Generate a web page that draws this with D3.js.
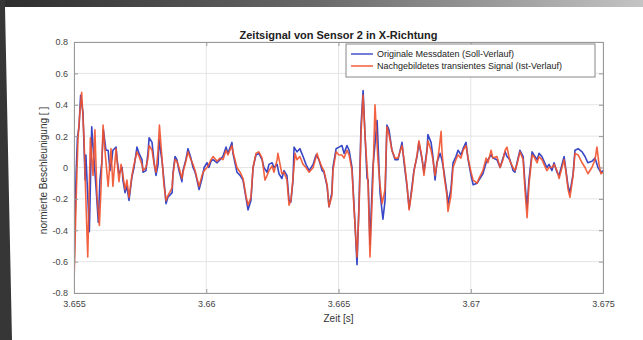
<!DOCTYPE html>
<html><head><meta charset="utf-8">
<script src="https://cdn.jsdelivr.net/npm/d3@7"></script>
<style>body{margin:0;background:#fff}svg{display:block}</style>
</head><body><svg id="c" width="643" height="340"></svg>
<script>
const chartTitle = "Zeitsignal von Sensor 2 in X-Richtung";
const xLabel = "Zeit [s]";
const yLabel = "normierte Beschleunigung [ ]";
const seriesNames = ["Originale Messdaten (Soll-Verlauf)", "Nachgebildetes transientes Signal (Ist-Verlauf)"];
// time offsets in ms after 3.655 s
const xTickValues = [0, 5, 10, 15, 20];
const xTickLabels = ["3.655", "3.66", "3.665", "3.67", "3.675"];
const yTickValues = [-0.8, -0.6, -0.4, -0.2, 0, 0.2, 0.4, 0.6, 0.8];
const yTickLabels = ["-0.8", "-0.6", "-0.4", "-0.2", "0", "0.2", "0.4", "0.6", "0.8"];

const sollData = [
[0,-0.67],[0.08,-0.04],[0.13,0.19],[0.19,0.26],[0.25,0.46],[0.34,0.35],[0.42,-0.08],[0.45,0.08],[0.58,-0.41],[0.67,0.26],
[0.73,0.11],[0.83,-0.12],[0.92,-0.35],[0.98,-0.08],[1.05,0.03],[1.11,0.24],[1.21,0.11],[1.29,0.11],[1.36,-0.02],[1.43,0.05],
[1.47,0.11],[1.59,0.13],[1.63,0.05],[1.70,-0.04],[1.82,0.00],[1.85,-0.08],[1.93,-0.16],[2.00,-0.12],[2.08,-0.21],[2.19,-0.06],
[2.27,0.00],[2.38,0.13],[2.46,0.09],[2.57,0.05],[2.61,-0.03],[2.72,-0.02],[2.80,0.10],[2.84,0.19],[2.95,0.16],[3.03,0.03],
[3.10,-0.05],[3.18,0.02],[3.21,0.18],[3.33,0.04],[3.40,-0.08],[3.48,-0.23],[3.55,-0.19],[3.71,-0.16],[3.74,-0.04],[3.82,0.07],
[3.89,0.05],[3.97,-0.02],[4.08,-0.09],[4.12,-0.02],[4.23,0.05],[4.31,0.12],[4.42,0.06],[4.50,0.00],[4.58,-0.03],[4.65,-0.08],
[4.73,-0.14],[4.84,-0.07],[4.92,0.00],[5.03,0.03],[5.10,0.00],[5.18,0.04],[5.26,0.05],[5.41,0.03],[5.52,0.05],[5.63,0.07],
[5.75,0.13],[5.82,0.09],[5.97,0.16],[6.01,0.09],[6.16,-0.03],[6.28,-0.05],[6.39,-0.08],[6.50,-0.19],[6.58,-0.27],[6.69,-0.21],
[6.77,0.00],[6.88,0.08],[6.99,0.09],[7.11,0.05],[7.18,0.00],[7.30,-0.03],[7.37,0.02],[7.49,0.03],[7.56,0.00],[7.68,0.02],
[7.75,-0.04],[7.86,-0.07],[7.94,-0.02],[8.05,-0.05],[8.13,-0.21],[8.20,-0.22],[8.28,-0.08],[8.32,0.13],[8.43,0.10],[8.54,0.12],
[8.66,0.07],[8.77,0.02],[8.89,-0.02],[9.04,0.02],[9.15,0.08],[9.26,0.05],[9.38,-0.02],[9.45,-0.03],[9.57,-0.12],[9.64,-0.25],
[9.75,-0.16],[9.79,0.00],[9.91,0.12],[10.02,0.13],[10.13,0.14],[10.21,0.09],[10.32,0.14],[10.40,0.11],[10.51,0.00],[10.59,-0.25],
[10.70,-0.62],[10.78,-0.21],[10.85,0.26],[10.93,0.49],[11.00,0.22],[11.08,-0.07],[11.12,-0.08],[11.19,-0.49],[11.30,0.00],[11.46,0.30],
[11.57,-0.16],[11.68,-0.33],[11.76,-0.21],[11.83,0.27],[11.91,0.24],[12.02,0.11],[12.14,0.05],[12.25,0.05],[12.40,0.16],[12.48,0.03],
[12.59,-0.12],[12.67,-0.26],[12.78,-0.12],[12.85,-0.02],[12.97,0.07],[13.04,0.16],[13.16,0.05],[13.23,-0.03],[13.35,0.12],[13.38,0.21],
[13.50,0.16],[13.57,0.07],[13.65,-0.08],[13.72,0.03],[13.84,0.09],[13.91,0.05],[13.99,-0.03],[14.10,-0.16],[14.14,-0.23],[14.25,-0.14],
[14.33,0.03],[14.44,0.07],[14.52,0.11],[14.63,0.08],[14.71,0.12],[14.82,0.16],[14.90,0.05],[15.01,-0.05],[15.09,-0.11],[15.24,-0.10],
[15.31,-0.08],[15.46,-0.04],[15.58,0.03],[15.65,0.05],[15.77,0.08],[15.84,0.06],[15.99,0.05],[16.11,0.00],[16.22,0.06],[16.30,0.10],
[16.37,0.07],[16.48,0.05],[16.60,-0.02],[16.67,-0.03],[16.75,0.03],[16.86,0.11],[16.98,0.07],[17.05,-0.10],[17.13,-0.26],[17.20,-0.08],
[17.32,0.10],[17.39,0.08],[17.51,0.05],[17.58,0.09],[17.69,0.07],[17.77,0.04],[17.88,0.00],[17.96,0.02],[18.07,-0.02],[18.15,0.03],
[18.26,-0.03],[18.34,-0.05],[18.45,0.02],[18.53,0.07],[18.60,-0.02],[18.68,-0.12],[18.75,-0.16],[18.87,-0.04],[18.94,0.11],[19.06,0.12],
[19.21,0.10],[19.32,0.07],[19.43,0.03],[19.58,0.04],[19.70,0.06],[19.81,0.00],[19.92,-0.03],[20.00,-0.02]
];

const istData = [
[0,-0.74],[0.08,-0.21],[0.15,0.18],[0.23,0.37],[0.29,0.48],[0.38,0.18],[0.45,-0.21],[0.52,-0.57],[0.62,0.19],[0.72,-0.05],
[0.79,0.24],[0.87,-0.18],[0.96,-0.37],[1.02,-0.14],[1.10,0.27],[1.17,0.11],[1.29,-0.12],[1.40,0.12],[1.47,-0.12],[1.59,0.12],
[1.70,-0.09],[1.78,0.02],[1.85,-0.05],[1.93,-0.14],[2.00,-0.08],[2.08,-0.19],[2.19,-0.05],[2.27,0.02],[2.38,0.10],[2.46,0.07],
[2.57,0.02],[2.61,-0.02],[2.72,0.00],[2.80,0.06],[2.84,0.14],[2.95,0.11],[3.03,0.02],[3.10,-0.03],[3.18,0.11],[3.23,0.27],
[3.33,0.05],[3.40,-0.11],[3.48,-0.21],[3.55,-0.18],[3.71,-0.13],[3.74,-0.05],[3.82,0.05],[3.89,0.04],[3.97,0.00],[4.08,-0.07],
[4.12,-0.03],[4.23,0.04],[4.31,0.10],[4.42,0.05],[4.50,0.02],[4.58,-0.02],[4.65,-0.07],[4.73,-0.12],[4.84,-0.05],[4.92,-0.02],
[5.03,0.00],[5.10,0.02],[5.18,0.05],[5.26,0.07],[5.41,0.04],[5.52,0.06],[5.63,0.05],[5.75,0.11],[5.82,0.08],[5.97,0.14],
[6.01,0.10],[6.16,0.00],[6.28,-0.03],[6.39,-0.07],[6.50,-0.18],[6.58,-0.24],[6.69,-0.19],[6.77,0.00],[6.88,0.09],[6.99,0.10],
[7.11,0.06],[7.22,-0.08],[7.30,-0.05],[7.37,-0.02],[7.49,0.01],[7.56,-0.03],[7.68,0.05],[7.71,0.09],[7.79,0.02],[7.86,-0.04],
[7.94,-0.03],[8.05,-0.08],[8.13,-0.24],[8.20,-0.21],[8.28,-0.07],[8.36,0.09],[8.43,0.05],[8.54,0.07],[8.66,0.02],[8.77,0.00],
[8.89,-0.03],[9.04,0.00],[9.19,0.09],[9.26,0.05],[9.38,0.00],[9.45,-0.02],[9.57,-0.11],[9.64,-0.25],[9.75,-0.18],[9.79,-0.02],
[9.91,0.10],[10.02,0.08],[10.13,0.08],[10.21,0.06],[10.32,0.11],[10.40,0.08],[10.51,-0.02],[10.59,-0.27],[10.70,-0.57],[10.78,-0.24],
[10.85,0.21],[10.93,0.46],[11.00,0.21],[11.08,0.00],[11.12,-0.11],[11.19,-0.57],[11.30,-0.08],[11.38,0.40],[11.49,0.05],[11.57,-0.11],
[11.65,-0.23],[11.76,-0.14],[11.83,0.26],[11.91,0.21],[12.02,0.11],[12.14,0.06],[12.25,0.06],[12.40,0.14],[12.48,0.05],[12.59,-0.11],
[12.67,-0.27],[12.78,-0.14],[12.85,-0.03],[12.97,0.08],[13.04,0.17],[13.16,0.06],[13.23,-0.05],[13.35,0.11],[13.38,0.17],[13.50,0.11],
[13.57,0.05],[13.65,-0.05],[13.72,0.02],[13.80,0.11],[13.88,0.23],[13.91,0.11],[13.99,-0.05],[14.10,-0.18],[14.14,-0.28],[14.25,-0.18],
[14.33,0.00],[14.44,0.05],[14.52,0.08],[14.63,0.06],[14.71,0.11],[14.82,0.14],[14.90,0.06],[15.01,-0.03],[15.09,-0.08],[15.24,-0.10],
[15.31,-0.07],[15.46,-0.02],[15.58,0.06],[15.65,0.03],[15.77,0.11],[15.84,0.06],[15.99,0.07],[16.11,0.00],[16.22,0.05],[16.30,0.11],
[16.37,0.13],[16.48,0.04],[16.60,0.00],[16.67,-0.02],[16.75,0.02],[16.86,0.10],[16.98,0.05],[17.05,-0.14],[17.13,-0.32],[17.20,-0.11],
[17.32,0.08],[17.39,0.07],[17.51,0.03],[17.58,0.07],[17.69,0.05],[17.77,0.02],[17.88,-0.02],[17.96,0.00],[18.07,0.00],[18.15,0.02],
[18.26,-0.02],[18.34,-0.07],[18.45,0.00],[18.53,0.05],[18.60,-0.03],[18.68,-0.14],[18.75,-0.19],[18.87,-0.05],[18.94,0.09],[19.06,0.08],
[19.21,0.03],[19.32,0.00],[19.43,-0.04],[19.58,0.00],[19.70,0.05],[19.77,0.13],[19.85,0.02],[19.92,-0.04],[20.00,-0.03]
];

const colors = ["#3747c6", "#f2512b"];

const svg = d3.select("#c");
const W = 643, H = 340;
const m = {l: 74, r: 603, t: 42, b: 293};

// photo frame
const defs = svg.append("defs");
const g1 = defs.append("linearGradient").attr("id", "topband").attr("x1", 0).attr("x2", 1).attr("y1", 0).attr("y2", 0);
g1.append("stop").attr("offset", 0).attr("stop-color", "#2c2c2c");
g1.append("stop").attr("offset", 0.5).attr("stop-color", "#6a6a6a");
g1.append("stop").attr("offset", 1).attr("stop-color", "#c4c4c4");
svg.append("rect").attr("width", W).attr("height", H).attr("fill", "#fff");
svg.append("rect").attr("x", 0).attr("y", 0).attr("width", W).attr("height", 7).attr("fill", "url(#topband)");
svg.append("polygon").attr("points", `0,0 5,0 5,7 12,340 0,340`).attr("fill", "#363636");

const x = d3.scaleLinear().domain([0, 20]).range([m.l, m.r]);
const y = d3.scaleLinear().domain([-0.8, 0.8]).range([m.b, m.t]);

// grid
const grid = svg.append("g").attr("stroke", "#e4e4e4").attr("stroke-width", 1);
xTickValues.forEach(v => grid.append("line").attr("x1", x(v)).attr("x2", x(v)).attr("y1", m.t).attr("y2", m.b));
yTickValues.forEach(v => grid.append("line").attr("x1", m.l).attr("x2", m.r).attr("y1", y(v)).attr("y2", y(v)));

// lines
const line = d3.line().x(d => x(d[0])).y(d => y(d[1]));
const clip = defs.append("clipPath").attr("id", "pa");
clip.append("rect").attr("x", m.l).attr("y", m.t).attr("width", m.r - m.l).attr("height", m.b - m.t);
const lg = svg.append("g").attr("clip-path", "url(#pa)");
lg.append("path").datum(sollData).attr("d", line).attr("fill", "none").attr("stroke", colors[0]).attr("stroke-width", 1.6).attr("stroke-linejoin", "round");
lg.append("path").datum(istData).attr("d", line).attr("fill", "none").attr("stroke", colors[1]).attr("stroke-width", 1.6).attr("stroke-linejoin", "round").attr("opacity", 0.9);

// axes
const ff = "Liberation Sans, Arial, sans-serif";
svg.append("g").attr("transform", `translate(0,${m.b})`)
  .call(d3.axisBottom(x).tickValues(xTickValues).tickFormat((d, i) => xTickLabels[i]).tickSizeInner(-4).tickSizeOuter(0).tickPadding(8))
  .call(g => { g.select(".domain").attr("stroke", "#999"); g.selectAll(".tick line").attr("stroke", "#999"); g.selectAll("text").attr("fill", "#444").attr("font-size", 9).attr("font-family", ff); });
svg.append("g").attr("transform", `translate(${m.l},0)`)
  .call(d3.axisLeft(y).tickValues(yTickValues).tickFormat((d, i) => yTickLabels[i]).tickSizeInner(-4).tickSizeOuter(0).tickPadding(6))
  .call(g => { g.select(".domain").attr("stroke", "#999"); g.selectAll(".tick line").attr("stroke", "#999"); g.selectAll("text").attr("fill", "#444").attr("font-size", 9).attr("font-family", ff); });
svg.append("g").attr("transform", `translate(0,${m.t})`)
  .call(d3.axisTop(x).tickValues(xTickValues).tickFormat("").tickSizeInner(-4).tickSizeOuter(0))
  .call(g => { g.select(".domain").attr("stroke", "#999"); g.selectAll(".tick line").attr("stroke", "#999"); });
svg.append("g").attr("transform", `translate(${m.r},0)`)
  .call(d3.axisRight(y).tickValues(yTickValues).tickFormat("").tickSizeInner(-4).tickSizeOuter(0))
  .call(g => { g.select(".domain").attr("stroke", "#999"); g.selectAll(".tick line").attr("stroke", "#999"); });

// labels
svg.append("text").attr("x", (m.l + m.r) / 2).attr("y", 39).attr("text-anchor", "middle").attr("font-family", ff).attr("font-weight", "bold").attr("font-size", 11).attr("fill", "#222").text(chartTitle);
svg.append("text").attr("x", (m.l + m.r) / 2).attr("y", 322).attr("text-anchor", "middle").attr("font-family", ff).attr("font-size", 10).attr("fill", "#333").text(xLabel);
svg.append("text").attr("transform", `translate(47,${(m.t + m.b) / 2 + 3}) rotate(-90)`).attr("text-anchor", "middle").attr("font-family", ff).attr("font-size", 10).attr("fill", "#333").text(yLabel);

// legend
const leg = svg.append("g");
leg.append("rect").attr("x", 346).attr("y", 44).attr("width", 249).attr("height", 33).attr("fill", "#fff").attr("stroke", "#888").attr("stroke-width", 1);
seriesNames.forEach((n, i) => {
  const yy = 54 + i * 12;
  leg.append("line").attr("x1", 351).attr("x2", 373).attr("y1", yy).attr("y2", yy).attr("stroke", colors[i]).attr("stroke-width", 1.4);
  leg.append("text").attr("x", 377).attr("y", yy + 3.2).attr("font-family", ff).attr("font-size", 9).attr("fill", "#222").text(n);
});
</script>
</body></html>
